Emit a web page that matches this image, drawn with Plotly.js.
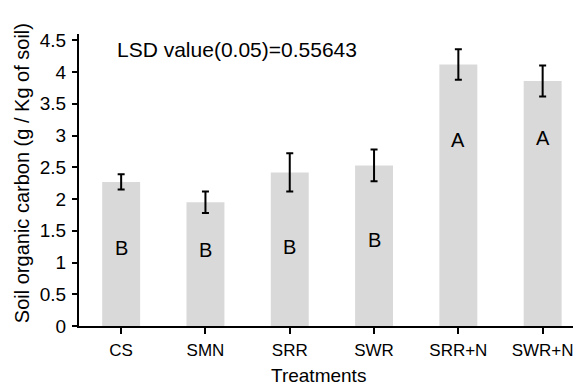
<!DOCTYPE html>
<html>
<head>
<meta charset="utf-8">
<script src="https://cdn.plot.ly/plotly-3.0.1.min.js"></script>
<style>html,body{margin:0;padding:0;background:#fff;}#chart{width:573px;height:387px;}</style>
</head>
<body>
<div id="chart"></div>
<script>
const treatments = ["CS", "SMN", "SRR", "SWR", "SRR+N", "SWR+N"];
const soc = [2.27, 1.95, 2.42, 2.53, 4.12, 3.86];
const socErr = [0.12, 0.17, 0.30, 0.25, 0.24, 0.245];
const letters = ["B", "B", "B", "B", "A", "A"];
const letterY = [1.23, 1.19, 1.25, 1.35, 2.93, 2.96];
const yTicks = [0, 0.5, 1, 1.5, 2, 2.5, 3, 3.5, 4, 4.5];
const yTickText = ["0", "0.5", "1", "1.5", "2", "2.5", "3", "3.5", "4", "4.5"];

const font = "Liberation Sans, Arial, sans-serif";

const annotations = letters.map((l, i) => ({
  x: treatments[i], y: letterY[i], xref: "x", yref: "y",
  text: l, showarrow: false, font: {family: font, size: 20, color: "#000"}
}));
annotations.push({
  xref: "paper", yref: "paper", x: 0.073, y: 0.947, xanchor: "left", yanchor: "middle",
  text: "LSD value(0.05)=0.55643", showarrow: false,
  font: {family: font, size: 21, color: "#000"}
});
annotations.push({
  xref: "paper", yref: "paper", x: -0.115, y: 0.524, xanchor: "center", yanchor: "middle",
  text: "Soil organic carbon (g / Kg of soil)", textangle: -90, showarrow: false,
  font: {family: font, size: 20, color: "#000"}
});
annotations.push({
  xref: "paper", yref: "paper", x: 0.484, y: -0.168, xanchor: "center", yanchor: "middle",
  text: "Treatments", showarrow: false,
  font: {family: font, size: 19, color: "#000"}
});

const data = [{
  type: "bar",
  x: treatments,
  y: soc,
  width: 0.45,
  marker: {color: "#d9d9d9", line: {width: 0}},
  error_y: {type: "data", array: socErr, visible: true, color: "#000", thickness: 2, width: 3.5},
  hoverinfo: "none"
}];

const layout = {
  width: 573, height: 387,
  margin: {l: 79, r: 0, t: 34, b: 61, pad: 0},
  paper_bgcolor: "#fff", plot_bgcolor: "#fff",
  showlegend: false,
  font: {family: font, size: 17, color: "#000"},
  xaxis: {
    type: "category",
    range: [-0.5, 5.36],
    showline: true, linecolor: "#000", linewidth: 2,
    ticks: "outside", ticklen: 6, tickwidth: 2, tickcolor: "#000",
    showgrid: false, zeroline: false,
    tickfont: {family: font, size: 17, color: "#000"},
    ticklabelstandoff: 2
  },
  yaxis: {
    range: [0, 4.6],
    tickmode: "array", tickvals: yTicks, ticktext: yTickText,
    showline: true, linecolor: "#000", linewidth: 2,
    ticks: "outside", ticklen: 5, tickwidth: 2, tickcolor: "#000",
    showgrid: false, zeroline: false,
    tickfont: {family: font, size: 19, color: "#000"},
    ticklabelstandoff: 2
  },
  annotations: annotations
};

Plotly.newPlot("chart", data, layout, {staticPlot: true, displayModeBar: false});
</script>
</body>
</html>
